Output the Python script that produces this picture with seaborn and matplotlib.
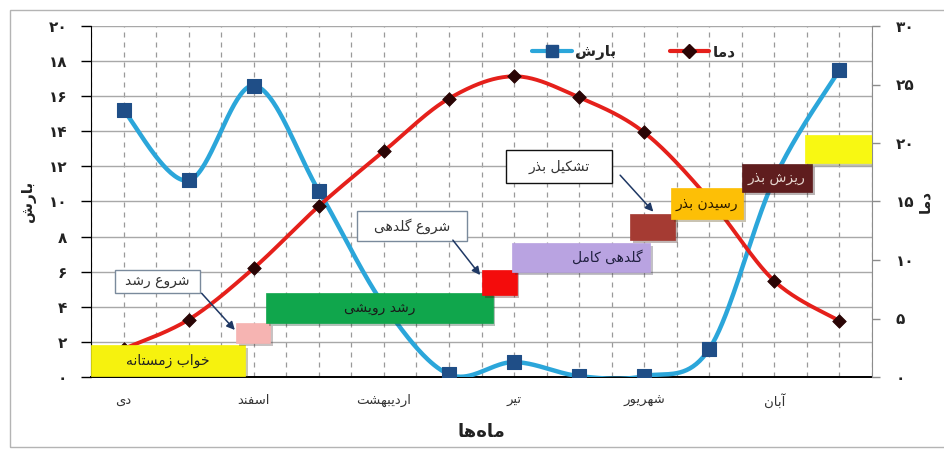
import numpy as np
import pandas as pd
import seaborn as sns
import matplotlib.pyplot as plt
import matplotlib.patheffects as pe
from matplotlib.patches import Rectangle
from matplotlib.lines import Line2D

# --- data ---
months = ['دی', 'بهمن', 'اسفند', 'فروردین', 'اردیبهشت', 'خرداد',
          'تیر', 'مرداد', 'شهریور', 'مهر', 'آبان', 'آذر']
precip = [15.2, 11.2, 16.6, 10.6, 4.1, 0.15, 0.85, 0.05, 0.05, 1.6, 11.3, 17.5]
temp = [2.4, 4.9, 9.3, 14.6, 19.3, 23.8, 25.7, 23.9, 20.9, 15.2, 8.2, 4.8]

stage_labels = ['خواب زمستانه', '', 'رشد رویشی', '', 'گلدهی کامل', '',
                'رسیدن بذر', 'ریزش بذر', '']
callout_labels = ['شروع رشد', 'شروع گلدهی', 'تشکیل بذر']

# --- minimal persian shaping (matplotlib has no arabic shaping / bidi) ---
FORMS = {
    '\u0627': ('\uFE8D', '\uFE8E', None, None),
    '\u0622': ('\uFE81', '\uFE82', None, None),
    '\u0628': ('\uFE8F', '\uFE90', '\uFE91', '\uFE92'),
    '\u062A': ('\uFE95', '\uFE96', '\uFE97', '\uFE98'),
    '\u062E': ('\uFEA5', '\uFEA6', '\uFEA7', '\uFEA8'),
    '\u062F': ('\uFEA9', '\uFEAA', None, None),
    '\u0630': ('\uFEAB', '\uFEAC', None, None),
    '\u0631': ('\uFEAD', '\uFEAE', None, None),
    '\u0632': ('\uFEAF', '\uFEB0', None, None),
    '\u0633': ('\uFEB1', '\uFEB2', '\uFEB3', '\uFEB4'),
    '\u0634': ('\uFEB5', '\uFEB6', '\uFEB7', '\uFEB8'),
    '\u0639': ('\uFEC9', '\uFECA', '\uFECB', '\uFECC'),
    '\u0641': ('\uFED1', '\uFED2', '\uFED3', '\uFED4'),
    '\u0644': ('\uFEDD', '\uFEDE', '\uFEDF', '\uFEE0'),
    '\u0645': ('\uFEE1', '\uFEE2', '\uFEE3', '\uFEE4'),
    '\u0646': ('\uFEE5', '\uFEE6', '\uFEE7', '\uFEE8'),
    '\u0647': ('\uFEE9', '\uFEEA', '\uFEEB', '\uFEEC'),
    '\u0648': ('\uFEED', '\uFEEE', None, None),
    '\u06A9': ('\uFB8E', '\uFB8F', '\uFB90', '\uFB91'),
    '\u06AF': ('\uFB92', '\uFB93', '\uFB94', '\uFB95'),
    '\u06CC': ('\uFBFC', '\uFBFD', '\uFBFE', '\uFBFF'),
}


def fa(text):
    out = []
    for i, ch in enumerate(text):
        if ch not in FORMS:
            out.append(ch)
            continue
        iso, fin, ini, med = FORMS[ch]
        prev = text[i - 1] if i > 0 else ''
        nxt = text[i + 1] if i + 1 < len(text) else ''
        jp = prev in FORMS and FORMS[prev][2] is not None
        jn = ini is not None and nxt in FORMS
        out.append(med if jp and jn else fin if jp else ini if jn else iso)
    return ''.join(out).replace('\u200c', '')[::-1]


def fa_num(v):
    return str(int(v)).translate(str.maketrans('0123456789', '۰۱۲۳۴۵۶۷۸۹'))


def smooth(xs, ys, n=40):
    # excel-like smoothed line (bezier through the points)
    xs = np.asarray(xs, float)
    ys = np.asarray(ys, float)
    px = np.r_[xs[0], xs, xs[-1]]
    py = np.r_[ys[0], ys, ys[-1]]
    t = np.linspace(0, 1, n, endpoint=False)[:, None]
    segs = []
    for i in range(len(xs) - 1):
        p0, p1 = np.array([px[i], py[i]]), np.array([px[i + 1], py[i + 1]])
        p2, p3 = np.array([px[i + 2], py[i + 2]]), np.array([px[i + 3], py[i + 3]])
        c1 = p1 + (p2 - p0) / 6
        c2 = p2 - (p3 - p1) / 6
        segs.append((1 - t) ** 3 * p1 + 3 * (1 - t) ** 2 * t * c1
                    + 3 * (1 - t) * t ** 2 * c2 + t ** 3 * p2)
    segs.append(np.array([[xs[-1], ys[-1]]]))
    pts = np.vstack(segs)
    return pts[:, 0], pts[:, 1]


sns.set_style('white')
plt.rcParams['font.family'] = ['DejaVu Sans']

x = np.arange(len(months))
df = pd.DataFrame({'m': x, 'precip': precip, 'temp': temp})

fig = plt.figure(figsize=(9.44, 4.5), dpi=100)
ax1 = fig.add_axes([91 / 944, 73 / 450, 781 / 944, 351 / 450])
ax2 = ax1.twinx()

# precipitation (left axis)
sx, sy = smooth(df['m'], df['precip'])
sns.lineplot(x=sx, y=sy, sort=False, estimator=None, color='#2BA6DA',
             lw=3.2, ax=ax1, zorder=3)
sns.scatterplot(data=df, x='m', y='precip', marker='s', s=95,
                color='#1F4E87', edgecolor='#1F4E87', ax=ax1, zorder=4)

# temperature (right axis)
tx, ty = smooth(df['m'], df['temp'])
sns.lineplot(x=tx, y=ty, sort=False, estimator=None, color='#E5201B',
             lw=2.8, ax=ax2, zorder=3)
sns.scatterplot(data=df, x='m', y='temp', marker='D', s=48,
                color='#2A0505', edgecolor='#2A0505', ax=ax2, zorder=4)

ax1.set_xlim(-0.5, 11.5)
ax1.set_ylim(0, 20)
ax2.set_ylim(0, 30)

# axes, ticks, grid
ax1.set_xticks(np.arange(-0.5, 12, 1))
ax1.set_xticklabels([])
ax1.set_xticks(x, minor=True)
ax1.set_xticklabels([fa(m) if i % 2 == 0 else '' for i, m in enumerate(months)],
                    minor=True, fontsize=9.5, color='#333333')
ax1.tick_params(axis='x', which='major', direction='out', length=5, width=1, color='black')
ax1.tick_params(axis='x', which='minor', length=0, pad=12)
ax1.xaxis.grid(True, which='both', ls=(0, (4, 4)), color='#9A9A9A', lw=0.9)

ax1.set_yticks(np.arange(0, 21, 2))
ax1.set_yticklabels([fa_num(v) for v in np.arange(0, 21, 2)],
                    fontsize=11, fontweight='bold', color='#222222')
ax1.tick_params(axis='y', direction='out', length=7, width=1, color='black', pad=10)
ax1.yaxis.grid(True, color='#A8A8A8', lw=1)
ax1.set_axisbelow(True)

ax2.set_yticks(np.arange(0, 31, 5))
ax2.set_yticklabels([fa_num(v) for v in np.arange(0, 31, 5)],
                    fontsize=11, fontweight='bold', color='#222222')
ax2.tick_params(axis='y', direction='out', length=6, width=1, color='#8C8C8C', pad=11)
ax2.grid(False)

for s in ['top', 'right']:
    ax1.spines[s].set_visible(False)
ax1.spines['left'].set_color('black')
ax1.spines['bottom'].set_color('black')
ax1.spines['bottom'].set_linewidth(1.4)
for s in ['top', 'left', 'bottom']:
    ax2.spines[s].set_visible(False)
ax2.spines['right'].set_color('#8C8C8C')

ax1.set_xlabel(fa('ماه\u200cها'), fontsize=13, fontweight='bold', color='#222222')
ax1.xaxis.set_label_coords(0.5, -0.13)
ax1.set_ylabel(fa('بارش'), fontsize=11, fontweight='bold', color='#222222')
ax1.yaxis.set_label_coords(-0.07, 0.5)
ax2.set_ylabel(fa('دما'), fontsize=11, fontweight='bold', color='#222222')
ax2.yaxis.set_label_coords(1.058, 0.5)

# phenology boxes, coordinates in left-axis units
shadow = [pe.SimplePatchShadow(offset=(2, -2), alpha=0.3), pe.Normal()]
boxes = [
    (-0.5, 1.87, 0.06, 1.82, '#F6F20E', '#222222', 'center'),
    (1.73, 2.25, 1.94, 3.08, '#F6B4B2', '#222222', 'center'),
    (2.19, 5.67, 3.08, 4.79, '#10A64C', '#1A1A1A', 'center'),
    (5.51, 6.04, 4.67, 6.10, '#F40C0C', '#222222', 'center'),
    (5.97, 8.09, 5.98, 7.64, '#B9A3E1', '#1F1F3F', 'right'),
    (7.78, 8.47, 7.81, 9.29, '#A53B33', '#222222', 'center'),
    (8.41, 9.52, 9.00, 10.77, '#FDBF06', '#2A1A00', 'center'),
    (9.50, 10.58, 10.54, 12.14, '#5F1D1E', '#E6D6CF', 'center'),
    (10.47, 11.6, 12.19, 13.79, '#F8F812', '#222222', 'center'),
]
for (x0, x1, y0, y1, fc, tc, ha), lab in zip(boxes, stage_labels):
    r = Rectangle((x0, y0), x1 - x0, y1 - y0, transform=ax1.transData,
                  facecolor=fc, edgecolor=fc, lw=0.5, zorder=6, clip_on=True)
    r.set_path_effects(shadow)
    ax2.add_patch(r)
    if lab:
        tx_ = (x0 + x1) / 2 if ha == 'center' else x1 - 0.12
        ax2.text(tx_, (y0 + y1) / 2, fa(lab), transform=ax1.transData,
                 ha=ha, va='center', fontsize=10, color=tc, zorder=7)

# callouts with arrows
callouts = [
    ((-0.13, 1.18, 4.79, 6.10), (1.20, 4.77), (1.71, 2.68), '#7A8A9C'),
    ((3.59, 5.28, 7.75, 9.46), (5.06, 7.80), (5.48, 5.81), '#7A8A9C'),
    ((5.88, 7.50, 11.05, 12.93), (7.63, 11.50), (8.14, 9.42), '#111111'),
]
for ((x0, x1, y0, y1), p_from, p_to, ec), lab in zip(callouts, callout_labels):
    r = Rectangle((x0, y0), x1 - x0, y1 - y0, transform=ax1.transData,
                  facecolor='white', edgecolor=ec, lw=1, zorder=6)
    ax2.add_patch(r)
    ax2.text((x0 + x1) / 2, (y0 + y1) / 2, fa(lab), transform=ax1.transData,
             ha='center', va='center', fontsize=10, color='#333333', zorder=7)
    ax2.annotate('', xy=p_to, xytext=p_from, xycoords=ax1.transData,
                 textcoords=ax1.transData, zorder=7,
                 arrowprops=dict(arrowstyle='-|>', color='#1F3864', lw=1.1,
                                 mutation_scale=12, shrinkA=0, shrinkB=0))

# legend
handles = [
    Line2D([], [], color='#2BA6DA', lw=3, marker='s', ms=9,
           markerfacecolor='#1F4E87', markeredgecolor='#1F4E87'),
    Line2D([], [], color='#E5201B', lw=3, marker='D', ms=7,
           markerfacecolor='#2A0505', markeredgecolor='#2A0505'),
]
leg = ax2.legend(handles, [fa('بارش'), fa('دما')], ncol=2, frameon=False,
                 loc='center', bbox_to_anchor=(0.695, 0.925), handlelength=2.6,
                 handletextpad=0.2, columnspacing=3.5,
                 prop={'size': 11, 'weight': 'bold'})
leg.set_zorder(8)

# outer chart frame
fig.patches.append(Rectangle((10 / 944, 3 / 450), 1.0, 437 / 450,
                             transform=fig.transFigure, fill=False,
                             edgecolor='#B4B4B4', lw=1))

fig.savefig('out.png', dpi=100)
